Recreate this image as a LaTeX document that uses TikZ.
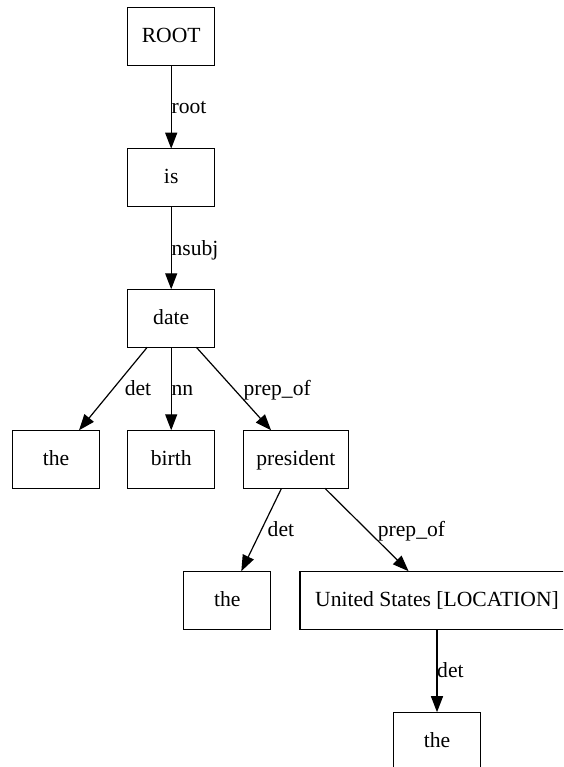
\documentclass[tikz,border=0pt]{standalone}
\usepackage{fontspec}
\setmainfont{Liberation Serif}
\usetikzlibrary{arrows.meta}
\begin{document}
\begin{tikzpicture}[x=1pt,y=-1pt,
  every node/.style={font=\fontsize{21.6}{26}\selectfont},
  word/.style={draw,line width=1.2pt,rectangle,minimum width=87pt,minimum height=58pt,
    inner sep=0pt,outer sep=0pt,text height=12pt,text depth=0pt,align=center},
  edge/.style={draw,line width=1.2pt,-{Triangle[length=16pt,width=12pt]}},
  elabel/.style={anchor=base west,inner sep=0pt}]
\useasboundingbox (0,0) rectangle (563,767);
\begin{scope}
\clip (0,0) rectangle (563,767);
\node[word] (root) at (171.2,36.5) {ROOT};
\node[word] (is) at (171.2,177.7) {is};
\node[word] (date) at (171.2,318.3) {date};
\node[word] (the1) at (56,459.3) {the};
\node[word] (birth) at (171.2,459.3) {birth};
\node[word,minimum width=105.6pt] (president) at (295.9,459.3) {president};
\node[word] (the2) at (227.3,600.2) {the};
\node[word,minimum width=274pt] (us) at (437,600.2) {United States [LOCATION]};
\node[word] (the3) at (437,741.2) {the};

\draw[edge] (root) -- (is);
\draw[edge] (is) -- (date);
\draw[edge] ([xshift=-24pt]date.south) -- ([xshift=23pt]the1.north);
\draw[edge] (date) -- (birth);
\draw[edge] ([xshift=25.2pt]date.south) -- ([xshift=-24.8pt]president.north);
\draw[edge] ([xshift=-14.4pt]president.south) -- ([xshift=14pt]the2.north);
\draw[edge] ([xshift=29pt]president.south) -- ([xshift=-28.4pt]us.north);
\draw[edge] (us) -- (the3);

\node[elabel] (l1) at (171.4,113.3) {root};
\node[elabel] (l2) at (171.4,255) {nsubj};
\node[elabel] (l3) at (124.6,395.7) {det};
\node[elabel] (l4) at (171.4,395.7) {nn};
\node[elabel] (l5) at (243.4,395.7) {prep\_of};
\node[elabel] (l6) at (267.5,536.7) {det};
\node[elabel] (l7) at (377.7,536.7) {prep\_of};
\node[elabel] (l8) at (437,677.3) {det};
\end{scope}
\end{tikzpicture}
\end{document}
